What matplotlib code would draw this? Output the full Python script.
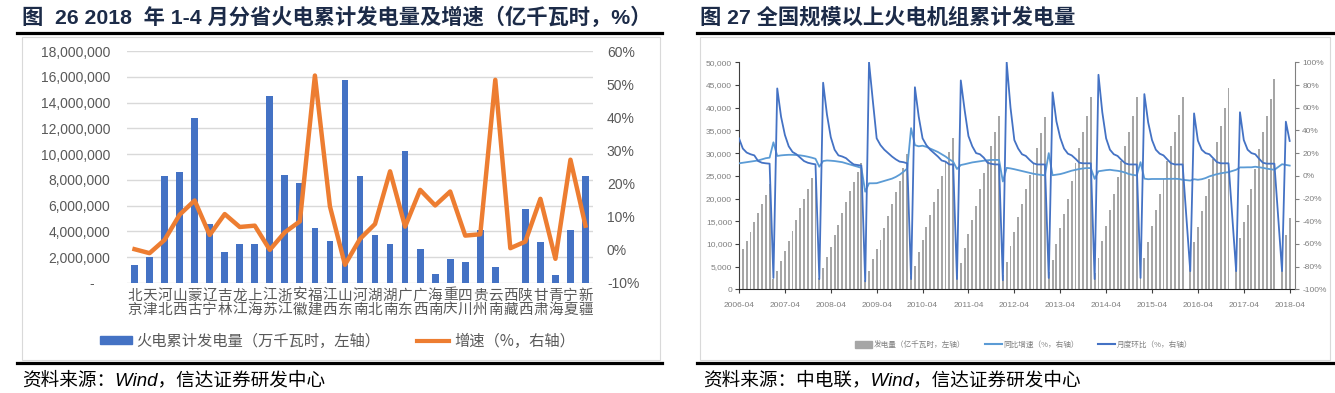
import numpy as np
import pandas as pd
import matplotlib
matplotlib.use("Agg")
import matplotlib.pyplot as plt
import matplotlib.font_manager as fm
from matplotlib.lines import Line2D
from matplotlib.patches import Patch, Rectangle
from matplotlib.ticker import FuncFormatter

nan = np.nan

# --- left chart: provinces, Jan-Apr 2018 ---
provinces = ['北京', '天津', '河北', '山西', '蒙古', '辽宁', '吉林', '龙江', '上海', '江苏',
             '浙江', '安徽', '福建', '江西', '山东', '河南', '湖北', '湖南', '广东', '广西',
             '海南', '重庆', '四川', '贵州', '云南', '西藏', '陕西', '甘肃', '青海', '宁夏', '新疆']
prov_gen = [1400000, 2000000, 8300000, 8630000, 12770000, 4600000, 2430000, 3000000, 3000000, 14470000,
            8400000, 7780000, 4260000, 3230000, 15740000, 8300000, 3720000, 3020000, 10280000, 2630000,
            700000, 1860000, 1600000, 4100000, 1220000, 0, 5740000, 3180000, 620000, 4080000, 8300000]
prov_growth = [0.2, -1.0, 3.0, 10.6, 14.9, 4.5, 10.8, 6.9, 7.3, 0.0,
               5.3, 8.6, 52.6, 13.1, -4.5, 3.3, 7.8, 23.7, 7.0, 18.1,
               13.4, 17.6, 4.3, 4.7, 51.3, 0.5, 2.5, 15.4, -2.7, 27.2, 7.3]

# --- right chart: monthly national thermal generation 2006-04 .. 2018-04 ---
# cumulative generation (thousand 亿kWh), per year
gen_2006 = [7.0, 8.8, 10.6, 12.7, 14.9, 16.7, 18.8, 20.8, 23.3]
gen_2007 = [2.3, 4.0, 6.2, 8.4, 10.6, 12.9, 15.3, 17.8, 19.9, 22.1, 24.6, 27.4]
gen_2008 = [2.5, 4.6, 7.2, 9.4, 12.0, 14.2, 16.7, 19.3, 21.7, 23.7, 25.8, 27.9]
gen_2009 = [2.0, 4.0, 6.7, 8.8, 10.9, 13.4, 16.1, 18.8, 21.5, 23.9, 26.7, 29.9]
gen_2010 = [2.9, 5.2, 8.3, 10.9, 13.8, 16.4, 19.3, 22.2, 25.0, 28.1, 30.2, 33.4]
gen_2011 = [3.1, 5.7, 9.2, 12.2, 15.3, 18.4, 22.0, 25.6, 28.5, 31.6, 34.7, 38.2]
gen_2012 = [3.05, 6.1, 9.6, 12.7, 15.9, 18.7, 22.1, 25.2, 27.8, 31.2, 34.5, 38.0]
gen_2013 = [3.75, 6.5, 10.0, 13.4, 16.5, 20.0, 23.9, 27.8, 31.2, 34.7, 38.2, 42.3]
gen_2014 = [3.6, 6.8, 10.6, 14.0, 17.5, 20.9, 24.8, 28.3, 31.6, 34.7, 38.2, 42.4]
gen_2015 = [4.05, 7.0, 10.5, 14.0, 17.5, 20.9, 24.4, 28.3, 31.6, 34.7, 38.3, 42.3]
gen_2016 = [nan, 7.0, 10.5, 13.8, 17.2, 20.6, 24.3, 28.6, 32.4, 36.0, 39.9, 44.3]
gen_2017 = [nan, 7.3, 11.4, 14.9, 18.6, 22.2, 26.5, 30.9, 34.7, 38.2, 41.9, 46.3]
gen_2018 = [nan, 7.9, 12.0, 15.6]

# year-on-year growth, %
yoy_2006 = [11, 11.5, 12, 12.5, 13, 13.5, 14.5, 15.5, 16]
yoy_2007 = [29.5, 17.5, 18, 18.3, 18.5, 18.5, 18.3, 18, 17.5, 16.8, 16, 15]
yoy_2008 = [8, 13, 13.5, 13.3, 13, 12.5, 12, 11, 10, 9, 8, 7]
yoy_2009 = [-14, -6.6, -6.6, -6.5, -5.5, -4.5, -3.5, -2.5, -1, 1, 3.5, 6.5]
yoy_2010 = [42, 27, 26, 26.5, 25.5, 24, 22.5, 21, 19, 17, 14.5, 12.5]
yoy_2011 = [6, 9.5, 10.2, 11, 11.8, 12.3, 12.8, 13.3, 13.7, 14, 14, 14]
yoy_2012 = [-5, 7, 6.5, 5.8, 5, 4.3, 3.3, 2.5, 1.8, 1.2, 0.8, 0.4]
yoy_2013 = [20, 0.5, 1, 1.5, 2.4, 3.5, 4.5, 5.3, 6, 6.5, 6.8, 6.8]
yoy_2014 = [-2.7, 4, 4.5, 5, 5.3, 4.8, 4.4, 3.8, 2.8, 1.5, 0.8, 0.3]
yoy_2015 = [12, -2.5, -3, -2.8, -2.8, -2.8, -2.8, -2.7, -2.7, -2.6, -2.8, -3.5]
yoy_2016 = [nan, -4.2, -3, -3.5, -3, -2, -0.5, 0.5, 1.5, 2.2, 2.8, 3.2]
yoy_2017 = [nan, 5.3, 7.4, 7.4, 7.5, 7.5, 8, 7.5, 7, 6.3, 5.8, 5.3]
yoy_2018 = [nan, 10.2, 9.6, 9]

# month-on-month (cumulative) change, %
mom_2006 = [33, 24, 20.5, 19, 18, 13, 11.5, 11, 10.7]
mom_2007 = [-90, 77, 52, 36, 26, 21, 19, 16, 13, 11.5, 10.7, 10.1]
mom_2008 = [-91, 82, 54, 34, 23, 18, 17, 15.5, 12.5, 10, 9.5, 9]
mom_2009 = [-93, 100, 66, 33, 27, 23, 20, 17, 14.5, 12.5, 12, 11]
mom_2010 = [-91, 78, 52, 33, 27, 23, 20, 17, 13.5, 12.5, 10, 10]
mom_2011 = [-91, 84, 58, 35, 26, 20, 19, 16, 11.5, 10.5, 10, 10]
mom_2012 = [-92, 100, 60, 31.5, 24, 19, 17.5, 14, 11, 10, 10, 10]
mom_2013 = [-90, 73.5, 48, 33.5, 24, 19.5, 18, 15, 11.5, 11, 11, 11]
mom_2014 = [-91, 89, 56, 33, 23, 19, 17.5, 14, 11, 10, 10, 10]
mom_2015 = [-90, 72, 47, 31.5, 23, 19.5, 18, 14.4, 11, 10, 10, 10]
mom_2016 = [nan, -84, 55, 31, 23, 20, 19, 15.5, 12, 11, 11, 11]
mom_2017 = [nan, -84, 56, 31.5, 23, 20, 19, 15, 11.5, 10.7, 10.7, 10.7]
mom_2018 = [nan, -84, 47.7, 30.7]

months = pd.period_range('2006-04', '2018-04', freq='M')
gen = pd.Series(np.concatenate([gen_2006, gen_2007, gen_2008, gen_2009, gen_2010, gen_2011, gen_2012,
                                gen_2013, gen_2014, gen_2015, gen_2016, gen_2017, gen_2018]) * 1000)
yoy = pd.Series(np.concatenate([yoy_2006, yoy_2007, yoy_2008, yoy_2009, yoy_2010, yoy_2011, yoy_2012,
                                yoy_2013, yoy_2014, yoy_2015, yoy_2016, yoy_2017, yoy_2018]))
mom = pd.Series(np.concatenate([mom_2006, mom_2007, mom_2008, mom_2009, mom_2010, mom_2011, mom_2012,
                                mom_2013, mom_2014, mom_2015, mom_2016, mom_2017, mom_2018]))

# fonts
names = {f.name for f in fm.fontManager.ttflist}
narrow = 'Liberation Sans Narrow' if 'Liberation Sans Narrow' in names else 'Liberation Sans'
CJK = ['Liberation Sans', 'Noto Sans CJK SC']
plt.rcParams['font.family'] = CJK

W, H = 1335, 393
fig = plt.figure(figsize=(W / 100, H / 100), dpi=100)


def fx(px):
    return px / W


def fy(py):
    return 1 - py / H


def box(x0, y0, x1, y1):
    return [fx(x0), fy(y1), (x1 - x0) / W, (y1 - y0) / H]


# ---------------- left chart ----------------
ax1 = fig.add_axes(box(127, 51, 593, 283))
x = np.arange(len(provinces))
ax1.bar(x, prov_gen, width=0.45, color='#4472C4', zorder=2)
ax1.set_xlim(-0.5, len(provinces) - 0.5)
ax1.set_ylim(0, 18000000)
ax1.set_yticks(np.arange(0, 18000001, 2000000))
ax1.yaxis.set_major_formatter(FuncFormatter(lambda v, p: '-    ' if v == 0 else f'{v:,.0f}'))
ax1.set_xticks(x)
ax1.set_xticklabels(['\n'.join(p) for p in provinces], family='Noto Sans CJK SC',
                    fontsize=10.5, color='#595959', linespacing=1.0)
ax1.yaxis.grid(True, color='#D9D9D9', lw=1)
ax1.set_axisbelow(True)
for s in ax1.spines.values():
    s.set_visible(False)
ax1.tick_params(axis='both', length=0)
ax1.tick_params(axis='y', labelsize=10, labelcolor='#595959', pad=12)
ax1.tick_params(axis='x', pad=4)

ax1b = ax1.twinx()
ax1b.plot(x, prov_growth, color='#ED7D31', lw=3.2, zorder=3)
ax1b.set_ylim(-10, 60)
ax1b.set_yticks(np.arange(-10, 61, 10))
ax1b.yaxis.set_major_formatter(FuncFormatter(lambda v, p: f'{v:.0f}%'))
for s in ax1b.spines.values():
    s.set_visible(False)
ax1b.tick_params(axis='y', length=0, labelsize=10, labelcolor='#595959', pad=10)

leg1 = ax1.legend(handles=[Patch(color='#4472C4'), Line2D([], [], color='#ED7D31', lw=3)],
                  labels=['火电累计发电量（万千瓦时，左轴）', '增速（%，右轴）'],
                  ncol=2, loc='center left', bbox_to_anchor=(fx(100), fy(341)),
                  bbox_transform=fig.transFigure, frameon=False,
                  prop=fm.FontProperties(family='Noto Sans CJK SC', size=11),
                  handlelength=2.1, handleheight=0.5, handletextpad=0.3,
                  columnspacing=2.4, borderpad=0, borderaxespad=0, labelcolor='#595959')

# ---------------- right chart ----------------
ax2 = fig.add_axes(box(739, 62.3, 1295.3, 289.3))
idx = np.arange(len(months))
ax2.bar(idx, gen, width=0.5, color='#A6A6A6', zorder=2)
ax2.set_xlim(0, 145.47)
ax2.set_ylim(0, 50000)
ax2.set_yticks(np.arange(0, 50001, 5000))
ax2.yaxis.set_major_formatter(FuncFormatter(lambda v, p: f'{v:,.0f}'))
year_ticks = [i for i, m in enumerate(months) if m.month == 4]
ax2.set_xticks(year_ticks)
ax2.set_xticklabels([str(months[i]) for i in year_ticks])
for lab in ax2.get_xticklabels() + ax2.get_yticklabels():
    lab.set_family(narrow)
ax2.spines['top'].set_visible(False)
ax2.spines['right'].set_visible(False)
ax2.spines['left'].set_color('#404040')
ax2.spines['bottom'].set_color('#262626')
ax2.tick_params(axis='both', direction='out', length=3, width=0.8, labelsize=6,
                labelcolor='#7F7F7F', color='#404040')
ax2.tick_params(axis='y', pad=2)
ax2.tick_params(axis='x', pad=6)

ax2b = ax2.twinx()
ok_y = yoy.notna()
ok_m = mom.notna()
ax2b.plot(idx[ok_y], yoy[ok_y], color='#5B9BD5', lw=1.3, zorder=3)
ax2b.plot(idx[ok_m], mom[ok_m], color='#4472C4', lw=1.3, zorder=4)
ax2b.set_ylim(-100, 100)
ax2b.set_yticks(np.arange(-100, 101, 20))
ax2b.yaxis.set_major_formatter(FuncFormatter(lambda v, p: f'{v:.0f}%'))
for lab in ax2b.get_yticklabels():
    lab.set_family(narrow)
for k in ['top', 'left', 'bottom']:
    ax2b.spines[k].set_visible(False)
ax2b.spines['right'].set_color('#808080')
ax2b.tick_params(axis='y', direction='out', length=3, width=0.8, labelsize=6,
                 labelcolor='#7F7F7F', color='#808080', pad=2)

leg2 = ax2.legend(handles=[Patch(color='#A6A6A6'), Line2D([], [], color='#5B9BD5', lw=1.5),
                           Line2D([], [], color='#4472C4', lw=1.5)],
                  labels=['发电量（亿千瓦时，左轴）', '同比增速（%，右轴）', '月度环比（%，右轴）'],
                  ncol=3, loc='center left', bbox_to_anchor=(fx(855), fy(345)),
                  bbox_transform=fig.transFigure, frameon=False,
                  prop=fm.FontProperties(family='Noto Sans CJK SC', size=5.5),
                  handlelength=2.2, handleheight=0.9, handletextpad=0.2,
                  columnspacing=2.6, borderpad=0, borderaxespad=0, labelcolor='#7F7F7F')

# ---------------- frames, titles, sources ----------------
title_color = '#1C2B48'
fig.text(fx(22), fy(17), '图  26 2018  年 1-4 月分省火电累计发电量及增速（亿千瓦时，%）',
         fontsize=15.3, weight='bold', color=title_color, va='center', ha='left', family=CJK)
fig.text(fx(700), fy(17), '图 27 全国规模以上火电机组累计发电量',
         fontsize=15.3, weight='bold', color=title_color, va='center', ha='left', family=CJK)

for x0, x1 in [(17, 662), (697, 1333)]:
    for yy in [33, 363]:
        fig.add_artist(Line2D([fx(x0), fx(x1)], [fy(yy), fy(yy)], lw=2.3, color='black'))
for x0, x1 in [(22, 660), (700, 1330)]:
    fig.add_artist(Rectangle((fx(x0), fy(360)), (x1 - x0) / W, (360 - 37) / H,
                             fill=False, ec='#D9D9D9', lw=0.8, transform=fig.transFigure))

fig.text(fx(22), fy(380), '资料来源：Wind，信达证券研发中心', fontsize=13.4, style='italic',
         va='center', ha='left', family=CJK)
fig.text(fx(703), fy(380), '资料来源：中电联，Wind，信达证券研发中心', fontsize=13.4, style='italic',
         va='center', ha='left', family=CJK)

fig.savefig('out.png', dpi=100)
